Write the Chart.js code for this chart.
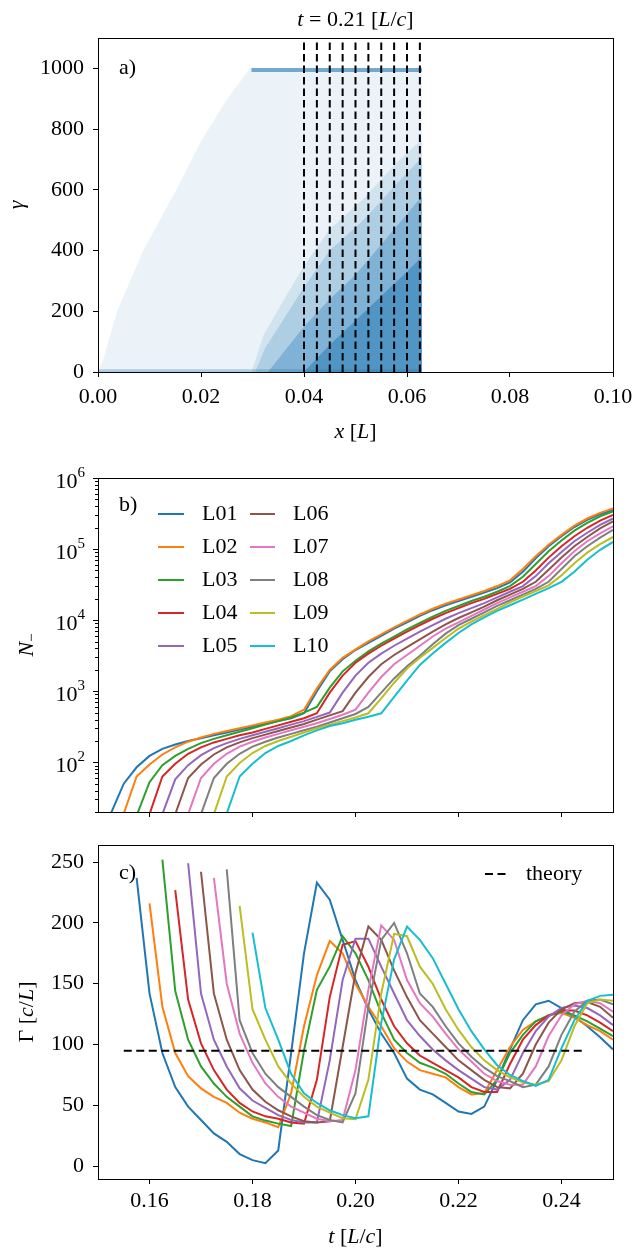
<!DOCTYPE html>
<html>
<head>
<meta charset="utf-8">
<script src="https://cdn.jsdelivr.net/npm/chart.js@4.4.0/dist/chart.umd.min.js"></script>
<style>
html, body { margin: 0; padding: 0; background: #fff; }
canvas { display: block; }
</style>
</head>
<body>
<canvas id="chartA" width="636" height="450"></canvas>
<canvas id="chartB" width="636" height="380"></canvas>
<canvas id="chartC" width="636" height="421"></canvas>
<script>
const xTicksA = [0, 0.02, 0.04, 0.06, 0.08, 0.10];
const yTicksA = [0, 200, 400, 600, 800, 1000];
const dashX = [0.04, 0.0425, 0.045, 0.0475, 0.05, 0.0525, 0.055, 0.0575, 0.06, 0.0625];
const cloudLightX = [0.0, 0.001, 0.0037, 0.0088, 0.0152, 0.020, 0.025, 0.0295, 0.0629, 0.0629];
const cloudLightY = [0, 40, 200, 400, 600, 760, 897, 1000, 1000, 0];
const cloudFaintX = [0.0298, 0.0321, 0.0353, 0.040, 0.045, 0.0515, 0.058, 0.0625, 0.0629, 0.0629];
const cloudFaintY = [0, 120, 215, 350, 470, 570, 690, 760, 760, 0];
const cloudMidX = [0.0305, 0.0325, 0.0355, 0.040, 0.045, 0.0515, 0.058, 0.0625, 0.0629, 0.0629];
const cloudMidY = [0, 80, 160, 280, 400, 500, 620, 700, 700, 0];
const cloudDenseX = [0.033, 0.040, 0.045, 0.050, 0.055, 0.060, 0.0629, 0.0629];
const cloudDenseY = [0, 150, 240, 320, 420, 520, 580, 0];
const cloudCoreX = [0.040, 0.045, 0.050, 0.055, 0.060, 0.0629, 0.0629];
const cloudCoreY = [0, 90, 170, 250, 330, 380, 0];
const bandX = [0.0298, 0.0629];
const bandY = [995, 995];
const floorX = [0.0, 0.0629];
const floorY = [4, 4];

// ---- panels b and c: time series ----
const tTicks = [0.16, 0.18, 0.20, 0.22, 0.24];
const gammaTicks = [0, 50, 100, 150, 200, 250];
const labels = ['L01', 'L02', 'L03', 'L04', 'L05', 'L06', 'L07', 'L08', 'L09', 'L10'];
const tGrid = [0.15, 0.1525, 0.155, 0.1575, 0.16, 0.1625, 0.165, 0.1675, 0.17, 0.1725,
  0.175, 0.1775, 0.18, 0.1825, 0.185, 0.1875, 0.19, 0.1925, 0.195, 0.1975,
  0.2, 0.2025, 0.205, 0.2075, 0.21, 0.2125, 0.215, 0.2175, 0.22, 0.2225,
  0.225, 0.2275, 0.23, 0.2325, 0.235, 0.2375, 0.24, 0.2425, 0.245, 0.2475, 0.25];

const logN01 = [null, 1.28, 1.70, 1.93, 2.09, 2.19, 2.25, 2.30, 2.34, 2.38, 2.42, 2.46, 2.50, 2.54, 2.58, 2.62, 2.69, 3.00, 3.28, 3.45, 3.58, 3.68, 3.78, 3.88, 3.97, 4.06, 4.14, 4.21, 4.27, 4.33, 4.39, 4.45, 4.53, 4.68, 4.87, 5.04, 5.18, 5.31, 5.41, 5.49, 5.55];
const logN02 = [null, null, 1.28, 1.80, 1.97, 2.11, 2.21, 2.29, 2.35, 2.40, 2.44, 2.48, 2.52, 2.56, 2.60, 2.65, 2.74, 3.04, 3.30, 3.47, 3.59, 3.70, 3.80, 3.90, 3.99, 4.08, 4.16, 4.23, 4.29, 4.35, 4.41, 4.48, 4.56, 4.72, 4.90, 5.06, 5.20, 5.33, 5.43, 5.51, 5.57];
const logN03 = [null, null, null, 1.25, 1.72, 1.96, 2.09, 2.19, 2.27, 2.33, 2.38, 2.43, 2.48, 2.53, 2.58, 2.63, 2.70, 2.78, 3.05, 3.28, 3.43, 3.56, 3.67, 3.77, 3.87, 3.96, 4.05, 4.13, 4.20, 4.27, 4.33, 4.40, 4.48, 4.61, 4.79, 4.97, 5.12, 5.26, 5.37, 5.46, 5.53];
const logN04 = [null, null, null, null, 1.27, 1.80, 1.98, 2.12, 2.21, 2.28, 2.33, 2.38, 2.42, 2.47, 2.52, 2.57, 2.62, 2.69, 2.98, 3.22, 3.40, 3.53, 3.64, 3.74, 3.84, 3.93, 4.02, 4.10, 4.17, 4.24, 4.30, 4.37, 4.44, 4.54, 4.70, 4.88, 5.04, 5.18, 5.30, 5.40, 5.48];
const logN05 = [null, null, null, null, null, 1.27, 1.76, 1.96, 2.10, 2.20, 2.27, 2.33, 2.38, 2.43, 2.48, 2.53, 2.58, 2.64, 2.70, 2.98, 3.22, 3.40, 3.53, 3.64, 3.74, 3.84, 3.93, 4.02, 4.10, 4.17, 4.24, 4.32, 4.40, 4.48, 4.62, 4.80, 4.96, 5.11, 5.23, 5.34, 5.43];
const logN06 = [null, null, null, null, null, null, 1.27, 1.78, 1.97, 2.11, 2.21, 2.28, 2.34, 2.39, 2.44, 2.49, 2.54, 2.60, 2.66, 2.72, 2.98, 3.20, 3.38, 3.51, 3.62, 3.73, 3.84, 3.94, 4.03, 4.11, 4.19, 4.28, 4.36, 4.44, 4.54, 4.71, 4.88, 5.04, 5.17, 5.29, 5.39];
const logN07 = [null, null, null, null, null, null, null, 1.27, 1.78, 1.98, 2.12, 2.22, 2.29, 2.35, 2.40, 2.45, 2.50, 2.55, 2.61, 2.67, 2.74, 2.98, 3.20, 3.38, 3.51, 3.64, 3.77, 3.88, 3.97, 4.06, 4.15, 4.24, 4.32, 4.40, 4.48, 4.62, 4.80, 4.97, 5.11, 5.22, 5.32];
const logN08 = [null, null, null, null, null, null, null, null, 1.27, 1.78, 1.98, 2.12, 2.22, 2.29, 2.35, 2.40, 2.45, 2.50, 2.56, 2.62, 2.68, 2.78, 2.98, 3.18, 3.35, 3.50, 3.66, 3.81, 3.93, 4.02, 4.11, 4.20, 4.28, 4.36, 4.44, 4.54, 4.72, 4.90, 5.04, 5.16, 5.27];
const logN09 = [null, null, null, null, null, null, null, null, null, 1.27, 1.80, 1.99, 2.13, 2.23, 2.30, 2.36, 2.42, 2.48, 2.53, 2.58, 2.63, 2.69, 2.90, 3.12, 3.32, 3.47, 3.61, 3.75, 3.88, 3.98, 4.07, 4.16, 4.25, 4.33, 4.41, 4.49, 4.63, 4.80, 4.95, 5.07, 5.17];
const logN10 = [null, null, null, null, null, null, null, null, null, null, 1.28, 1.80, 1.98, 2.13, 2.23, 2.30, 2.38, 2.45, 2.51, 2.55, 2.60, 2.64, 2.69, 2.92, 3.15, 3.37, 3.53, 3.68, 3.82, 3.94, 4.04, 4.13, 4.21, 4.29, 4.37, 4.45, 4.54, 4.68, 4.85, 4.99, 5.10];

// growth rate Gamma [c/L]
const gamma01 = [null, null, null, 237, 142, 93, 65, 49, 38, 27, 20, 10, 5, 2.5, 13, 93, 175, 233, 219, 186, 153, 129, 109, 93, 72, 63, 59, 52, 45, 43, 49, 71, 96, 120, 133, 136, 130, 123, 115, 106, 96];
const gamma02 = [null, null, null, null, 216, 131, 93, 74, 64, 57, 52, 44, 39, 36, 32, 60, 115, 157, 185, 175, 150, 131, 115, 97, 86, 79, 76, 73, 65, 59, 60, 79, 98, 112, 119, 124, 126, 122, 116, 111, 104];
const gamma03 = [null, null, null, null, null, 252, 144, 104, 82, 68, 57, 49, 41, 37.5, 35, 33, 95, 145, 164, 189, 175, 153, 126, 104, 93, 85, 81, 76, 68, 61, 59, 71, 93, 108, 119, 124, 127, 124, 119, 113, 107];
const gamma04 = [null, null, null, null, null, null, 227, 137, 101, 79, 63, 52, 45, 41, 39, 36, 35, 71, 139, 182, 185, 164, 137, 115, 101, 91, 85, 79, 73, 65, 61, 61, 84, 104, 116, 124, 128, 128, 124, 118, 111];
const gamma05 = [null, null, null, null, null, null, null, 249, 142, 104, 82, 64, 54, 48, 42, 38, 36, 36, 87, 153, 187, 187, 164, 142, 120, 107, 96, 87, 79, 72, 65, 63, 71, 93, 111, 123, 130, 132, 130, 124, 116];
const gamma06 = [null, null, null, null, null, null, null, null, 242, 142, 104, 79, 63, 53, 46, 41, 37, 36, 37, 98, 159, 197, 186, 161, 139, 120, 109, 98, 87, 79, 71, 65, 64, 76, 100, 118, 129, 134, 135, 131, 122];
const gamma07 = [null, null, null, null, null, null, null, null, null, 237, 150, 109, 85, 68, 57, 49, 44, 39, 37, 38, 79, 145, 198, 186, 153, 134, 123, 109, 96, 86, 76, 70, 67, 67, 82, 107, 124, 133, 136, 134, 127];
const gamma08 = [null, null, null, null, null, null, null, null, null, null, 244, 120, 93, 76, 65, 57, 49, 42, 38, 36, 60, 131, 186, 200, 175, 142, 131, 115, 101, 90, 81, 74, 70, 65, 67, 82, 108, 127, 136, 137, 133];
const gamma09 = [null, null, null, null, null, null, null, null, null, null, null, 214, 129, 104, 82, 68, 57, 49, 44, 39.5, 38.6, 71, 142, 191, 189, 164, 150, 129, 112, 98, 87, 79, 73, 69, 67, 70, 87, 115, 134, 137, 136];
const gamma10 = [null, null, null, null, null, null, null, null, null, null, null, null, 192, 130, 104, 76, 60, 52, 46, 42, 39.5, 41, 118, 170, 197, 186, 171, 150, 129, 111, 96, 83, 75, 70, 66, 71, 97, 120, 136, 140, 141];

const theoryT = [0.155, 0.2445];
const theoryG = [95, 95];

const colors = ['#1f77b4', '#ff7f0e', '#2ca02c', '#d62728', '#9467bd', '#8c564b', '#e377c2', '#7f7f7f', '#bcbd22', '#17becf'];
const logNAll = [logN01, logN02, logN03, logN04, logN05, logN06, logN07, logN08, logN09, logN10];
const gammaAll = [gamma01, gamma02, gamma03, gamma04, gamma05, gamma06, gamma07, gamma08, gamma09, gamma10];

const SERIF = '"Liberation Serif", "Times New Roman", serif';
Chart.defaults.font.family = SERIF;
Chart.defaults.font.size = 22;
Chart.defaults.color = '#000';

function fnt(size, italic) {
    return (italic ? 'italic ' : '') + size + 'px ' + SERIF;
}

// draw a label made of upright / italic pieces: [text, italic, size, dy]
function drawParts(ctx, parts, x, y, align) {
    let w = 0;
    parts.forEach(p => { ctx.font = fnt(p[2] || 22, p[1]); w += ctx.measureText(p[0]).width; });
    let cx = align === 'center' ? x - w / 2 : (align === 'right' ? x - w : x);
    ctx.textAlign = 'left';
    ctx.textBaseline = 'middle';
    ctx.fillStyle = '#000';
    parts.forEach(p => {
        ctx.font = fnt(p[2] || 22, p[1]);
        ctx.fillText(p[0], cx, y + (p[3] || 0));
        cx += ctx.measureText(p[0]).width;
    });
}

function drawRotated(ctx, parts, x, y) {
    ctx.save();
    ctx.translate(x, y);
    ctx.rotate(-Math.PI / 2);
    drawParts(ctx, parts, 0, 0, 'center');
    ctx.restore();
}

function drawFrame(chart) {
    const { ctx, chartArea: a } = chart;
    ctx.save();
    ctx.strokeStyle = '#000';
    ctx.lineWidth = 1;
    ctx.strokeRect(a.left + 0.5, a.top + 0.5, a.right - a.left, a.bottom - a.top);
    ctx.restore();
}

function pts(xs, ys) {
    return xs.map((x, i) => ({ x: x, y: ys[i] }));
}

function xAxis(min, max, ticks, height, showLabels, pad) {
    return {
        type: 'linear', min: min, max: max,
        afterBuildTicks: s => { s.ticks = ticks.map(v => ({ value: v })); },
        afterFit: s => { s.height = height; s.paddingLeft = 0; s.paddingRight = 0; },
        grid: { display: true, drawOnChartArea: false, drawTicks: true, tickLength: 5, tickWidth: 1, tickColor: '#000' },
        border: { display: false },
        ticks: {
            padding: pad, color: '#000', maxRotation: 0, autoSkip: false,
            font: { family: SERIF, size: 22 },
            callback: v => showLabels ? v.toFixed(2) : ''
        }
    };
}

function yAxis(min, max, ticks) {
    return {
        type: 'linear', min: min, max: max,
        afterBuildTicks: s => { s.ticks = ticks.map(v => ({ value: v })); },
        afterFit: s => { s.width = 98; s.paddingTop = 0; s.paddingBottom = 0; },
        grid: { display: true, drawOnChartArea: false, drawTicks: true, tickLength: 5, tickWidth: 1, tickColor: '#000' },
        border: { display: false },
        ticks: { padding: 9, color: '#000', font: { family: SERIF, size: 22 }, callback: v => String(v) }
    };
}

const common = {
    responsive: false,
    animation: false,
    events: [],
    plugins: { legend: { display: false }, tooltip: { enabled: false } }
};

// ---------------- panel a ----------------
const cloudSets = [
    { data: pts(cloudLightX, cloudLightY), backgroundColor: 'rgba(31,119,180,0.09)', order: 10 },
    { data: pts(cloudFaintX, cloudFaintY), backgroundColor: 'rgba(31,119,180,0.12)', order: 9 },
    { data: pts(cloudMidX, cloudMidY), backgroundColor: 'rgba(31,119,180,0.20)', order: 8 },
    { data: pts(cloudDenseX, cloudDenseY), backgroundColor: 'rgba(31,119,180,0.32)', order: 7 },
    { data: pts(cloudCoreX, cloudCoreY), backgroundColor: 'rgba(31,119,180,0.50)', order: 6 }
].map(d => Object.assign(d, { borderWidth: 0, pointRadius: 0, fill: 'origin', tension: 0 }));

const dashSets = dashX.map(x => ({
    data: [{ x: x, y: 0 }, { x: x, y: 1100 }],
    borderColor: '#000', borderWidth: 2, borderDash: [7.5, 4], pointRadius: 0, fill: false, order: 0
}));

new Chart(document.getElementById('chartA'), {
    type: 'line',
    data: {
        datasets: cloudSets.concat([
            { data: pts(floorX, floorY), borderColor: 'rgba(31,119,180,0.30)', borderWidth: 3, pointRadius: 0, fill: false, order: 5 },
            { data: pts(bandX, bandY), borderColor: 'rgba(31,119,180,0.60)', borderWidth: 4, pointRadius: 0, fill: false, order: 4 }
        ], dashSets)
    },
    options: Object.assign({}, common, {
        layout: { padding: { left: 0, right: 23, top: 38, bottom: 0 } },
        scales: { x: xAxis(0, 0.1, xTicksA, 78, true, 7), y: yAxis(0, 1100, yTicksA) }
    }),
    plugins: [{
        id: 'decorA',
        afterDraw(chart) {
            const ctx = chart.ctx;
            drawFrame(chart);
            drawParts(ctx, [['t', true], [' = 0.21 [', false], ['L', true], ['/', false], ['c', true], [']', false]], 355.5, 20, 'center');
            drawParts(ctx, [['a)', false]], 119, 68, 'left');
            drawParts(ctx, [['x', true], [' [', false], ['L', true], [']', false]], 355.5, 432, 'center');
            drawRotated(ctx, [['γ', true]], 17, 205);
        }
    }]
});

// ---------------- panel b ----------------
new Chart(document.getElementById('chartB'), {
    type: 'line',
    data: {
        datasets: logNAll.map((arr, i) => ({
            label: labels[i],
            data: tGrid.map((t, k) => ({ x: t, y: arr[k] === null ? null : Math.pow(10, arr[k]) })),
            borderColor: colors[i], borderWidth: 2, pointRadius: 0, fill: false, tension: 0,
            order: 10 - i, clip: 0
        }))
    },
    options: Object.assign({}, common, {
        layout: { padding: { left: 0, right: 23, top: 28, bottom: 0 } },
        scales: {
            x: xAxis(0.15, 0.25, tTicks, 18, false, 4),
            y: {
                type: 'logarithmic', min: 20, max: 1e6,
                afterFit: s => { s.width = 98; s.paddingTop = 0; s.paddingBottom = 0; },
                grid: { display: false }, border: { display: false }, ticks: { display: false }
            }
        }
    }),
    plugins: [{
        id: 'decorB',
        afterDraw(chart) {
            const ctx = chart.ctx;
            const a = chart.chartArea;
            const ys = chart.scales.y;
            const off = 450;
            drawFrame(chart);
            // log ticks
            ctx.save();
            ctx.strokeStyle = '#000';
            ctx.lineWidth = 1;
            for (let e = 1; e <= 6; e++) {
                for (let m = 1; m <= 9; m++) {
                    const v = m * Math.pow(10, e);
                    if (v < 20 || v > 1e6) continue;
                    const y = Math.round(ys.getPixelForValue(v)) + 0.5;
                    const len = m === 1 ? 5 : 3;
                    ctx.beginPath();
                    ctx.moveTo(a.left, y);
                    ctx.lineTo(a.left - len, y);
                    ctx.stroke();
                }
            }
            ctx.restore();
            for (let e = 2; e <= 6; e++) {
                const y = ys.getPixelForValue(Math.pow(10, e));
                ctx.font = fnt(15, false);
                const ws = ctx.measureText(String(e)).width;
                const right = 85;
                drawParts(ctx, [[String(e), false, 15]], right - ws, y - 5, 'left');
                drawParts(ctx, [['10', false]], right - ws, y + 4, 'right');
            }
            drawParts(ctx, [['b)', false]], 119, 505 - off, 'left');
            drawRotated(ctx, [['N', true], ['−', false, 15, 5]], 27, 645 - off);
            // legend, two columns
            const rows = [514, 547, 580, 613, 646];
            const cols = [[158, 184, 202], [250, 275, 293]];
            chart.data.datasets.forEach((d, i) => {
                const c = cols[Math.floor(i / 5)];
                const y = rows[i % 5] - off;
                ctx.save();
                ctx.strokeStyle = d.borderColor;
                ctx.lineWidth = 2;
                ctx.beginPath();
                ctx.moveTo(c[0], y);
                ctx.lineTo(c[1], y);
                ctx.stroke();
                ctx.restore();
                drawParts(ctx, [[d.label, false]], c[2], y, 'left');
            });
        }
    }]
});

// ---------------- panel c ----------------
const gammaSets = gammaAll.map((arr, i) => ({
    label: labels[i],
    data: tGrid.map((t, k) => ({ x: t, y: arr[k] })),
    borderColor: colors[i], borderWidth: 2, pointRadius: 0, fill: false, tension: 0,
    order: 10 - i, clip: 0
}));
gammaSets.push({
    label: 'theory',
    data: pts(theoryT, theoryG),
    borderColor: '#000', borderWidth: 2, borderDash: [8, 4.5], pointRadius: 0, fill: false, order: -1
});

new Chart(document.getElementById('chartC'), {
    type: 'line',
    data: { datasets: gammaSets },
    options: Object.assign({}, common, {
        layout: { padding: { left: 0, right: 23, top: 15, bottom: 0 } },
        scales: { x: xAxis(0.15, 0.25, tTicks, 72, true, 4), y: yAxis(-10.5, 264, gammaTicks) }
    }),
    plugins: [{
        id: 'decorC',
        afterDraw(chart) {
            const ctx = chart.ctx;
            const off = 830;
            drawFrame(chart);
            drawParts(ctx, [['c)', false]], 119, 873 - off, 'left');
            drawRotated(ctx, [['Γ', false], [' [', false], ['c', true], ['/', false], ['L', true], [']', false]], 27, 1012 - off);
            drawParts(ctx, [['t', true], [' [', false], ['L', true], ['/', false], ['c', true], [']', false]], 355.5, 1237 - off, 'center');
            ctx.save();
            ctx.strokeStyle = '#000';
            ctx.lineWidth = 2;
            ctx.setLineDash([8, 4.5]);
            ctx.beginPath();
            ctx.moveTo(485, 874 - off);
            ctx.lineTo(506, 874 - off);
            ctx.stroke();
            ctx.restore();
            drawParts(ctx, [['theory', false]], 526, 874 - off, 'left');
        }
    }]
});
</script>
</body>
</html>
